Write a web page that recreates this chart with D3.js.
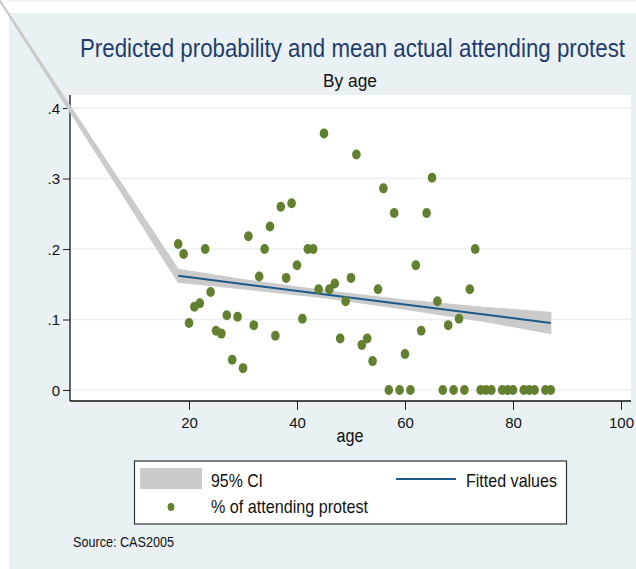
<!DOCTYPE html>
<html>
<head>
<meta charset="utf-8">
<script src="https://cdn.jsdelivr.net/npm/d3@7"></script>
<style>
  body { margin: 0; background: #fff; }
  svg { display: block; font-family: "Liberation Sans", Arial, sans-serif; }
</style>
</head>
<body>
<div id="chart"></div>
<script>
// mean share attending a protest, by age
var ages = [18, 19, 20, 21, 22, 23, 24, 25, 26, 27,
  28, 29, 30, 31, 32, 33, 34, 35, 36, 37,
  38, 39, 40, 41, 42, 43, 44, 45, 46, 47,
  48, 49, 50, 51, 52, 53, 54, 55, 56, 57,
  58, 59, 60, 61, 62, 63, 64, 65, 66, 67,
  68, 69, 70, 71, 72, 73, 74, 75, 76,
  78, 79, 80, 82, 83, 84, 86, 87];
var attending = [0.207, 0.193, 0.095, 0.118, 0.123, 0.200, 0.139, 0.084, 0.080, 0.106,
  0.043, 0.104, 0.031, 0.218, 0.092, 0.161, 0.200, 0.232, 0.077, 0.260,
  0.159, 0.265, 0.177, 0.101, 0.200, 0.200, 0.143, 0.364, 0.143, 0.151,
  0.073, 0.126, 0.159, 0.334, 0.064, 0.073, 0.041, 0.143, 0.286, 0,
  0.251, 0, 0.051, 0, 0.177, 0.084, 0.251, 0.301, 0.126, 0,
  0.092, 0, 0.101, 0, 0.143, 0.200, 0, 0, 0,
  0, 0, 0, 0, 0, 0, 0, 0];

// fitted line
var fitAges = [18, 87];
var fitValues = [0.162, 0.095];

// 95% CI band (first point is the stray one that runs off the top left)
var ciAges = [-20, 18, 30, 45, 60, 75, 87];
var ciLow = [0.611, 0.153, 0.1435, 0.131, 0.1145, 0.097, 0.080];
var ciHigh = [0.611, 0.171, 0.1565, 0.141, 0.1275, 0.117, 0.110];

var xTicks = [20, 40, 60, 80, 100];
var yTicks = [0, 0.1, 0.2, 0.3, 0.4];
var yTickLabels = ["0", ".1", ".2", ".3", ".4"];

var width = 636,
  height = 569;
var plot = { left: 70, right: 631, top: 95, bottom: 401 };

var bgColor = "#eaf1f4",
  gridColor = "#e9f0f3",
  ciColor = "#cbcbcb",
  fitColor = "#1d5a8a",
  dotColor = "#62802f",
  titleColor = "#1f3d6c";

var x = d3.scaleLinear().domain([20, 100]).range([189, 621]);
var y = d3.scaleLinear().domain([0, 0.4]).range([390, 108]);

var svg = d3.select("#chart").append("svg")
  .attr("width", width)
  .attr("height", height);

// graph region
svg.append("rect")
  .attr("x", 9).attr("y", 0)
  .attr("width", width - 9).attr("height", 1.5)
  .attr("fill", bgColor);
svg.append("rect")
  .attr("x", 9).attr("y", 13)
  .attr("width", width - 9).attr("height", height - 13)
  .attr("fill", bgColor);

// plot region
svg.append("rect")
  .attr("x", plot.left).attr("y", plot.top)
  .attr("width", plot.right - plot.left).attr("height", plot.bottom - plot.top)
  .attr("fill", "#fff");

svg.append("g")
  .selectAll("line")
  .data(yTicks)
  .enter().append("line")
  .attr("x1", plot.left)
  .attr("x2", plot.right)
  .attr("y1", function(d) { return y(d); })
  .attr("y2", function(d) { return y(d); })
  .attr("stroke", gridColor)
  .attr("stroke-width", 1.6);

// axes
var yAxis = d3.axisLeft(y)
  .tickValues(yTicks)
  .tickFormat(function(d, i) { return yTickLabels[i]; })
  .tickSize(7)
  .tickSizeOuter(0)
  .tickPadding(3);

var xAxis = d3.axisBottom(x)
  .tickValues(xTicks)
  .tickSize(9)
  .tickSizeOuter(0)
  .tickPadding(7);

var gy = svg.append("g")
  .attr("transform", "translate(" + plot.left + ",0)")
  .call(yAxis);
var gx = svg.append("g")
  .attr("transform", "translate(0," + plot.bottom + ")")
  .call(xAxis);

[gx, gy].forEach(function(g) {
  g.select(".domain").remove();
  g.selectAll(".tick line").attr("stroke", "#222");
  g.selectAll(".tick text")
    .attr("fill", "#111")
    .style("font-size", "15px")
    .style("font-family", "'Liberation Sans', Arial, sans-serif");
});
gy.selectAll(".tick text").attr("dy", "0.36em");

svg.append("line")
  .attr("x1", plot.left).attr("x2", plot.left)
  .attr("y1", plot.top).attr("y2", plot.bottom)
  .attr("stroke", "#111").attr("stroke-width", 1.3);
svg.append("line")
  .attr("x1", plot.left).attr("x2", plot.right)
  .attr("y1", plot.bottom).attr("y2", plot.bottom)
  .attr("stroke", "#111").attr("stroke-width", 1.3);

// CI band, not clipped
var ciData = ciAges.map(function(a, i) {
  return { age: a, lo: ciLow[i], hi: ciHigh[i] };
});
var area = d3.area()
  .x(function(d) { return x(d.age); })
  .y0(function(d) { return y(d.lo); })
  .y1(function(d) { return y(d.hi); });

svg.append("path")
  .datum(ciData)
  .attr("d", area)
  .attr("fill", ciColor)
  .attr("stroke", ciColor)
  .attr("stroke-width", 1.2);

// fitted values
var fitData = fitAges.map(function(a, i) {
  return { age: a, value: fitValues[i] };
});
svg.append("path")
  .datum(fitData)
  .attr("d", d3.line()
    .x(function(d) { return x(d.age); })
    .y(function(d) { return y(d.value); }))
  .attr("fill", "none")
  .attr("stroke", fitColor)
  .attr("stroke-width", 2);

// scatter
svg.append("g")
  .selectAll("ellipse")
  .data(ages)
  .enter().append("ellipse")
  .attr("cx", function(d) { return x(d); })
  .attr("cy", function(d, i) { return y(attending[i]); })
  .attr("rx", 4.3)
  .attr("ry", 5)
  .attr("fill", dotColor);

// titles
function addText(txt, tx, ty, size, len, color, anchor) {
  return svg.append("text")
    .attr("x", tx)
    .attr("y", ty)
    .attr("text-anchor", anchor || "start")
    .attr("textLength", len)
    .attr("lengthAdjust", "spacingAndGlyphs")
    .attr("fill", color || "#111")
    .style("font-size", size + "px")
    .text(txt);
}

// title: smaller font stretched up, so its natural width fits the page
svg.append("text")
  .attr("transform", "translate(352.5,57) scale(1,1.15)")
  .attr("text-anchor", "middle")
  .attr("textLength", 545)
  .attr("lengthAdjust", "spacingAndGlyphs")
  .attr("fill", titleColor)
  .style("font-size", "22.6px")
  .text("Predicted probability and mean actual attending protest");

addText("By age", 350, 87, 17.5, 54, "#111", "middle");
addText("age", 350, 442, 18, 27, "#111", "middle");

// legend
svg.append("rect")
  .attr("x", 134.5).attr("y", 461)
  .attr("width", 432).attr("height", 63)
  .attr("fill", "#fff")
  .attr("stroke", "#333")
  .attr("stroke-width", 1.2);

svg.append("rect")
  .attr("x", 140).attr("y", 468)
  .attr("width", 62).attr("height", 21)
  .attr("fill", ciColor);
addText("95% CI", 211, 487, 18.5, 52, "#111");

svg.append("line")
  .attr("x1", 396).attr("x2", 456)
  .attr("y1", 479).attr("y2", 479)
  .attr("stroke", fitColor)
  .attr("stroke-width", 2);
addText("Fitted values", 466, 487, 18.5, 91, "#111");

svg.append("ellipse")
  .attr("cx", 171).attr("cy", 507)
  .attr("rx", 3.4).attr("ry", 4)
  .attr("fill", dotColor);
addText("% of attending protest", 211, 513, 18.5, 157, "#111");

// note
addText("Source: CAS2005", 73, 547, 14, 101, "#111");
</script>
</body>
</html>
